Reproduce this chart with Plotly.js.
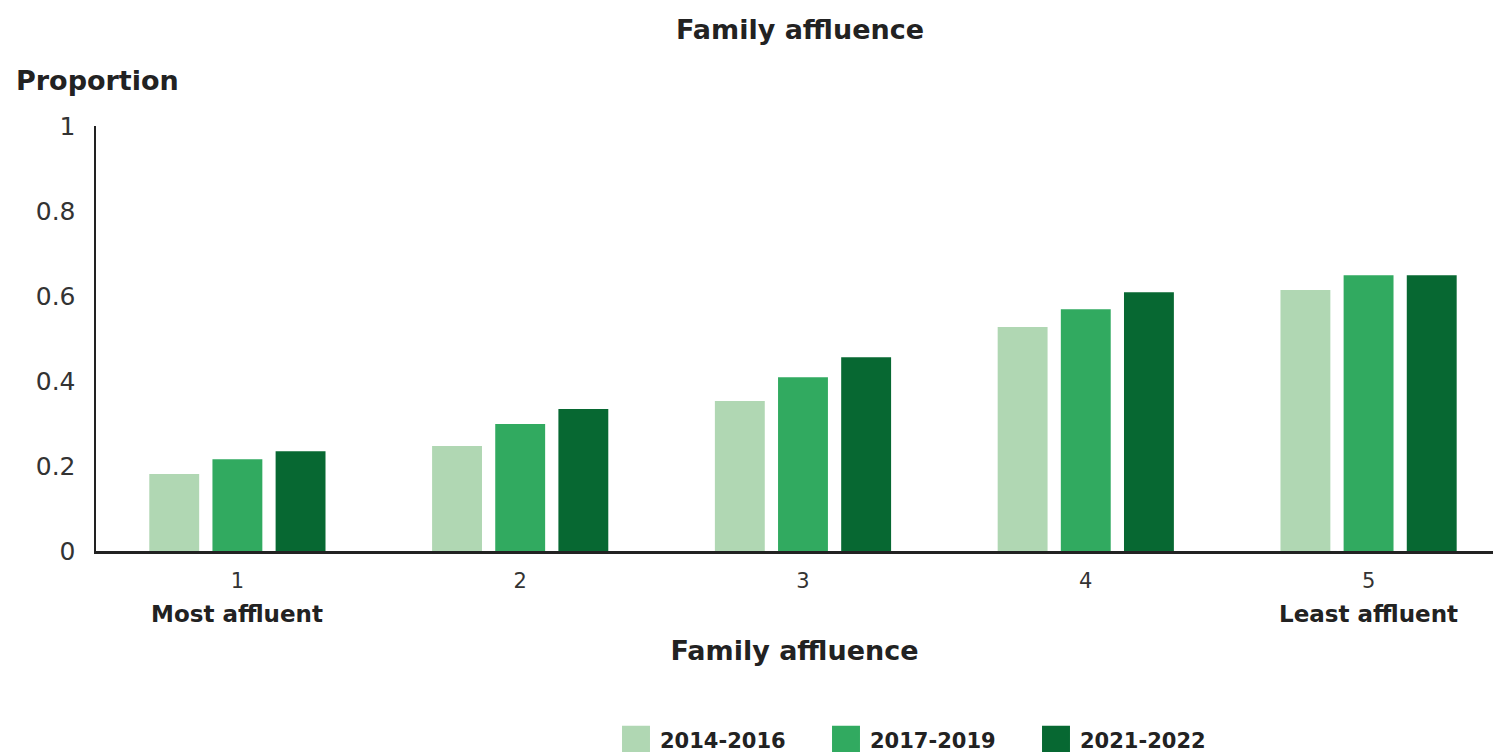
<!DOCTYPE html>
<html>
<head>
<meta charset="utf-8">
<script src="https://cdn.plot.ly/plotly-3.0.1.min.js"></script>
<style>html,body{margin:0;padding:0;background:#fff;}#chart{width:1493px;height:752px;}</style>
</head>
<body>
<div id="chart"></div>
<script>
const categories = ["1", "2", "3", "4", "5"];
const tickLabels = ["1", "2", "3", "4", "5"];
const endLabels = {"1": "Most affluent", "5": "Least affluent"};
const seriesNames = ["2014-2016", "2017-2019", "2021-2022"];
const values2014_2016 = [0.181, 0.247, 0.353, 0.527, 0.614];
const values2017_2019 = [0.216, 0.299, 0.409, 0.569, 0.649];
const values2021_2022 = [0.235, 0.334, 0.456, 0.609, 0.649];
const seriesColors = ["#b0d7b3", "#31aa60", "#076832"];
const yTicks = [0, 0.2, 0.4, 0.6, 0.8, 1];
const yTickText = ["0", "0.2", "0.4", "0.6", "0.8", "1"];

const FONT = "DejaVu Sans, sans-serif";
const seriesValues = [values2014_2016, values2017_2019, values2021_2022];

const traces = seriesNames.map((name, i) => ({
  type: "bar",
  name: name,
  x: categories,
  y: seriesValues[i],
  marker: {color: seriesColors[i], line: {width: 0}},
  hoverinfo: "x+y+name"
}));

const annotations = [
  {text: "<b>Proportion</b>", xref: "paper", yref: "paper", x: (14 - 96) / 1397, y: (551 - 81) / 425,
   xanchor: "left", yanchor: "middle", showarrow: false, font: {family: FONT, size: 27, color: "#222"}}
];
Object.keys(endLabels).forEach(k => {
  annotations.push({text: "<b>" + endLabels[k] + "</b>", xref: "x", yref: "paper", x: categories.indexOf(k), y: (551 - 614) / 425,
    xanchor: "center", yanchor: "middle", showarrow: false, font: {family: FONT, size: 23, color: "#222"}});
});

const layout = {
  width: 1493, height: 752,
  paper_bgcolor: "#fff", plot_bgcolor: "#fff",
  margin: {l: 96, r: 0, t: 126, b: 201},
  title: {text: "<b>Family affluence</b>", x: 800/1493, xref: "container", xanchor: "center",
    y: 1 - 30/752, yref: "container", yanchor: "middle", font: {family: FONT, size: 27, color: "#222"}},
  bargap: 0.33, bargroupgap: 0.21, barmode: "group",
  xaxis: {
    type: "category", range: [-0.5, 4.44], tickvals: categories, ticktext: tickLabels,
    showline: true, linecolor: "#222", linewidth: 2.5, ticks: "", showgrid: false, zeroline: false,
    tickfont: {family: FONT, size: 21, color: "#333"}, ticklabelstandoff: 9,
    title: {text: "<b>Family affluence</b>", standoff: 50, font: {family: FONT, size: 27, color: "#222"}}
  },
  yaxis: {
    range: [0, 1], tickvals: yTicks, ticktext: yTickText,
    showline: true, linecolor: "#222", linewidth: 2.5, ticks: "", showgrid: false, zeroline: false,
    tickfont: {family: FONT, size: 25, color: "#333"}, ticklabelstandoff: 13
  },
  legend: {orientation: "h", xref: "container", yref: "container", x: 610/1493, xanchor: "left",
    y: 12/752, yanchor: "middle", font: {family: FONT, size: 21, color: "#222", weight: "bold"}, itemwidth: 40,
    entrywidth: 155, entrywidthmode: "pixels", traceorder: "normal"},
  annotations: annotations,
  showlegend: true
};

Plotly.newPlot("chart", traces, layout, {displayModeBar: false, staticPlot: true}).then(gd => {
  gd.querySelectorAll(".legend .legendpoints path").forEach(p => {
    p.setAttribute("transform", "translate(26,0) scale(2.33)");
  });
});
</script>
</body>
</html>
